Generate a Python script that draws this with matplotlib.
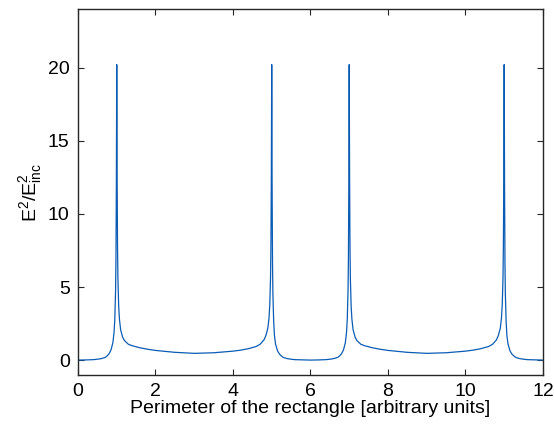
import matplotlib
matplotlib.use("Agg")
import matplotlib.pyplot as plt

plt.rcParams['font.family'] = ['Liberation Sans', 'DejaVu Sans']
plt.rcParams['mathtext.fontset'] = 'custom'
plt.rcParams['mathtext.rm'] = 'Liberation Sans'
plt.rcParams['mathtext.it'] = 'Liberation Sans'

perimeter = [0.0, 0.2, 0.4, 0.5, 0.6, 0.7, 0.75, 0.8, 0.85, 0.9, 0.93, 0.95, 0.97, 0.98, 0.99,
             1.0, 1.01, 1.02, 1.03, 1.05, 1.07, 1.1, 1.15, 1.2, 1.3, 1.4, 1.6, 1.8, 2.0, 2.5,
             3.0, 3.5, 4.0, 4.2, 4.4, 4.6, 4.7, 4.8, 4.85, 4.9, 4.93, 4.95, 4.97, 4.98, 4.99,
             5.0, 5.01, 5.02, 5.03, 5.05, 5.07, 5.1, 5.15, 5.2, 5.25, 5.3, 5.4, 5.5, 5.6, 6.0,
             6.2, 6.4, 6.5, 6.6, 6.7, 6.75, 6.8, 6.85, 6.9, 6.93, 6.95, 6.97, 6.98, 6.99,
             7.0, 7.01, 7.02, 7.03, 7.05, 7.07, 7.1, 7.15, 7.2, 7.3, 7.4, 7.6, 7.8, 8.0, 8.5,
             9.0, 9.5, 10.0, 10.2, 10.4, 10.6, 10.7, 10.8, 10.85, 10.9, 10.93, 10.95, 10.97, 10.98, 10.99,
             11.0, 11.01, 11.02, 11.03, 11.05, 11.07, 11.1, 11.15, 11.2, 11.25, 11.3, 11.4, 11.5, 11.6, 12.0]

intensity = [0.02, 0.03, 0.05, 0.08, 0.12, 0.2, 0.3, 0.45, 0.7, 1.2, 1.9, 2.8, 4.8, 7.0, 12.0,
             20.2, 12.5, 7.8, 5.6, 3.7, 2.8, 2.1, 1.6, 1.35, 1.1, 1.0, 0.86, 0.76, 0.68, 0.55,
             0.48, 0.52, 0.63, 0.7, 0.8, 0.95, 1.1, 1.4, 1.7, 2.2, 2.9, 3.8, 5.7, 8.0, 12.5,
             20.2, 12.0, 6.8, 4.6, 2.7, 1.7, 1.1, 0.65, 0.43, 0.3, 0.2, 0.12, 0.08, 0.05, 0.02,
             0.03, 0.05, 0.08, 0.12, 0.2, 0.3, 0.45, 0.7, 1.2, 1.9, 2.8, 4.8, 7.0, 12.0,
             20.2, 12.5, 7.8, 5.6, 3.7, 2.8, 2.1, 1.6, 1.35, 1.1, 1.0, 0.86, 0.76, 0.68, 0.55,
             0.48, 0.52, 0.63, 0.7, 0.8, 0.95, 1.1, 1.4, 1.7, 2.2, 2.9, 3.8, 5.7, 8.0, 12.5,
             20.2, 12.0, 6.8, 4.6, 2.7, 1.7, 1.1, 0.65, 0.43, 0.3, 0.2, 0.12, 0.08, 0.05, 0.02]

xticks = [0, 2, 4, 6, 8, 10, 12]
yticks = [0, 5, 10, 15, 20]

fig = plt.figure(figsize=(5.54, 4.25), dpi=100)
ax = fig.add_axes([0.1408, 0.1176, 0.8392, 0.8612])
ax.plot(perimeter, intensity, color='#0b5cb5', linewidth=0.9)
ax.set_xlim(0, 12)
ax.set_ylim(-1, 24)
ax.set_xticks(xticks)
ax.set_yticks(yticks)
ax.tick_params(direction='in', top=True, right=True, length=4, width=0.8,
               labelsize=14, colors='#262626', pad=6)
ax.tick_params(labelcolor='black')
for s in ax.spines.values():
    s.set_color('#262626')
    s.set_linewidth(1.0)
ax.set_xlabel('Perimeter of the rectangle [arbitrary units]', fontsize=14, labelpad=0)
ax.set_ylabel(r'$\mathregular{E^2/E^2_{inc}}$', fontsize=14, labelpad=3)
fig.savefig('out.png', dpi=100)
